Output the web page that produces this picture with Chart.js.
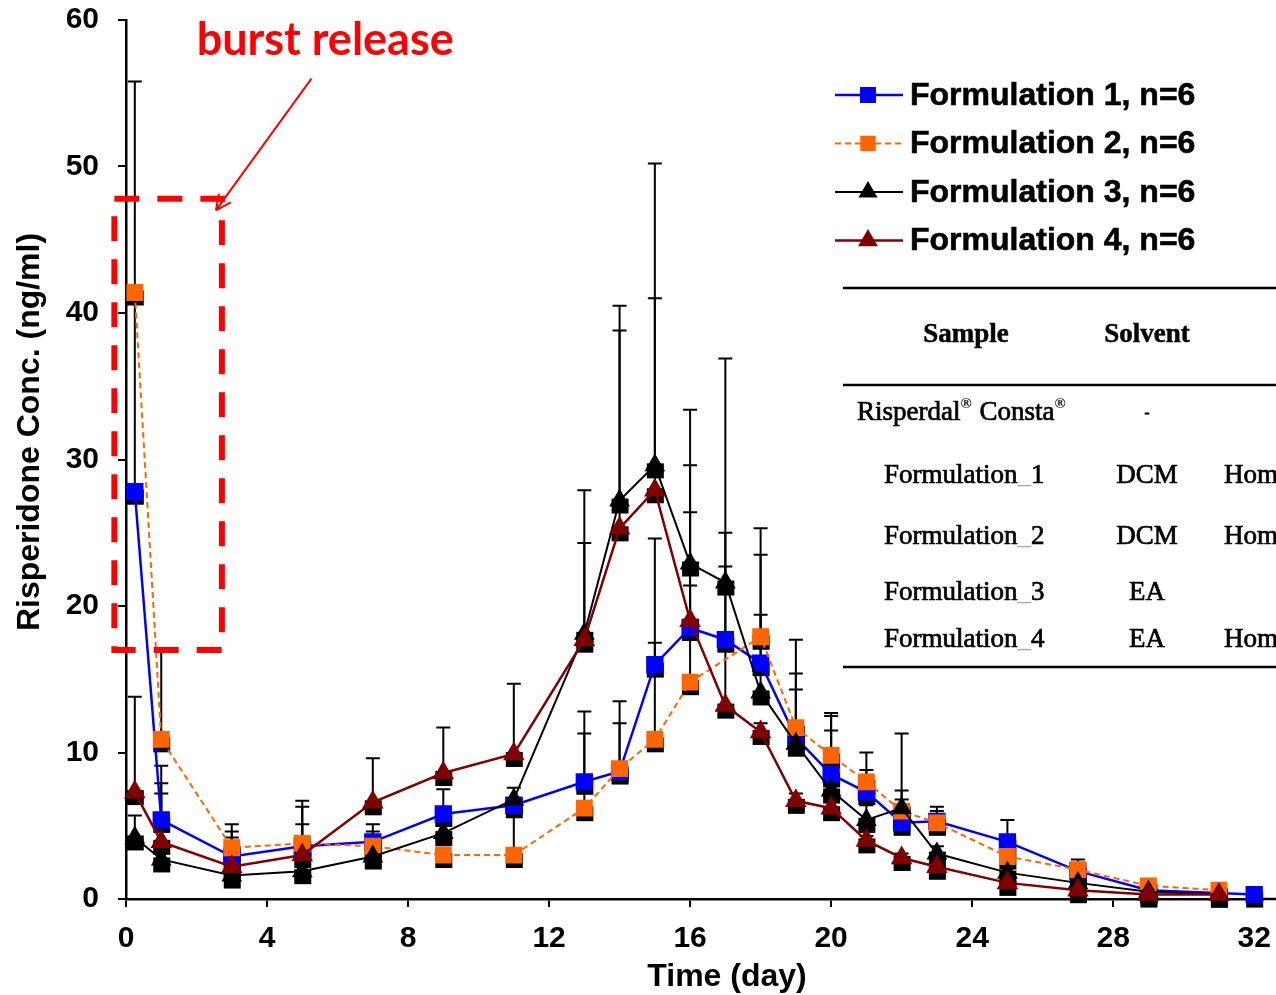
<!DOCTYPE html>
<html>
<head>
<meta charset="utf-8">
<script src="https://cdn.jsdelivr.net/npm/chart.js@4.4.0/dist/chart.umd.min.js"></script>
<style>
  html, body { margin: 0; padding: 0; background: #fff; }
  #wrap { width: 1276px; height: 995px; }
</style>
</head>
<body>
<div id="wrap"><canvas id="myChart" width="1276" height="995"></canvas></div>
<script>
// sampling days
const days = [0.25, 1, 3, 5, 7, 9, 11, 13, 14, 15, 16, 17, 18, 19, 20, 21, 22, 23, 25, 27, 29, 31, 32];
const dayTicks = [0, 4, 8, 12, 16, 20, 24, 28, 32];

// mean plasma conc. (ng/ml), null = not sampled
const form1 = [27.8, 5.4, 2.9, 3.6, 3.9, 5.8, 6.4, 8.0, 8.7, 16.0, 18.5, 17.7, 16.1, 11.0, 8.5, 7.3, 5.2, 5.3, 3.9, 1.9, 0.6, null, 0.3];
const form2 = [41.4, 10.9, 3.5, 3.8, 3.6, 3.0, 3.0, 6.2, 8.9, 10.9, 14.8, null, 17.9, 11.7, 9.8, 8.0, 6.0, 5.2, 2.9, 2.0, 0.9, 0.6, null];
const form3 = [4.2, 2.7, 1.6, 1.9, 2.9, 4.5, 6.8, 18.1, 27.2, 29.6, 22.9, 21.6, 14.1, 10.6, 7.4, 5.4, 6.2, 3.1, 1.8, 1.1, 0.5, 0.3, null];
const form4 = [7.3, 3.9, 2.2, 3.0, 6.6, 8.6, 9.9, 17.7, 25.3, 27.9, 19.0, 13.2, 11.4, 6.7, 6.2, 4.0, 2.8, 2.2, 1.1, 0.6, 0.3, 0.3, null];

// standard deviations (upper bars only)
const form1Sd = [13.3, 3.7, 1.7, 2.7, 1.2, 1.7, 0.4, 4.8, 3.3, 8.6, 7.9, 7.3, 7.4, 4.4, 4.0, 1.5, 2.2, 0.7, 1.5, 0.3, 0.2, null, 0.2];
const form2Sd = [14.4, 6.0, 1.6, 2.9, 1.0, 0.5, 3.4, 5.1, 4.6, 6.6, 6.6, null, 7.4, 6.0, 2.9, 2.0, 0.8, 1.1, 0.5, 0.7, 0.2, 0.1, null];
const form3Sd = [1.5, 4.5, 1.0, 1.2, 0.7, 1.0, 0.8, 9.8, 13.3, 20.6, 10.5, 15.3, 5.3, 3.7, 4.1, 1.0, 5.1, 0.5, 0.3, 0.2, 0.1, 0.1, null];
const form4Sd = [6.5, 4.0, 2.0, 2.1, 3.0, 3.1, 4.8, 6.6, 13.5, 13.1, 10.6, 9.5, 0.6, 0.5, 0.5, 0.3, 0.3, 0.3, 0.2, 0.1, 0.1, 0.1, null];

const seriesNames = ['Formulation 1, n=6', 'Formulation 2, n=6', 'Formulation 3, n=6', 'Formulation 4, n=6'];

// burst release box / arrow / label, in day & ng/ml units
const burstBoxDays = [-0.33, 2.72];
const burstBoxConc = [17.0, 47.8];
const arrowFrom = [5.26, 56.0];
const arrowTo = [2.55, 47.0];
const burstLabelAt = [5.65, 57.6];

// table beside the legend
const tableHead = ['Sample', 'Solvent'];
const tableRows = [
    ['Risperdal® Consta®', '-', ''],
    ['Formulation_1', 'DCM', 'Homogenizer'],
    ['Formulation_2', 'DCM', 'Homogenizer'],
    ['Formulation_3', 'EA', ''],
    ['Formulation_4', 'EA', 'Homogenizer']
];

const errs = [form1Sd, form2Sd, form3Sd, form4Sd];

function toPoints(vals) {
    return days.map((d, i) => ({ x: d, y: vals[i] })).filter(p => p.y !== null);
}

const arial = '"Liberation Sans", Arial, sans-serif';
const times = '"Liberation Serif", "Times New Roman", serif';

// text with a thin outline so it reads heavier
function heavyText(ctx, txt, x, y, w) {
    ctx.fillText(txt, x, y);
    ctx.lineWidth = w;
    ctx.strokeStyle = ctx.fillStyle;
    ctx.strokeText(txt, x, y);
}

// keep the plot box fixed, no extra room for edge labels
function noEdgePadding(scale) {
    scale.paddingTop = 0;
    scale.paddingBottom = 0;
    scale.paddingLeft = 0;
    scale.paddingRight = 0;
}

var errorBars = {
    id: 'errorBars',
    beforeDatasetsDraw(chart) {
        const ctx = chart.ctx;
        const xs = chart.scales.x, ys = chart.scales.y;
        ctx.save();
        ctx.strokeStyle = '#000';
        ctx.lineWidth = 2;
        chart.data.datasets.forEach((ds, k) => {
            const means = ds.means;
            errs[k].forEach((sd, i) => {
                if (sd === null || means[i] === null) return;
                const px = xs.getPixelForValue(days[i]);
                const y0 = ys.getPixelForValue(means[i]);
                const y1 = ys.getPixelForValue(means[i] + sd);
                ctx.beginPath();
                ctx.moveTo(px, y0);
                ctx.lineTo(px, y1);
                ctx.moveTo(px - 7, y1);
                ctx.lineTo(px + 7, y1);
                ctx.stroke();
            });
        });
        // dark drop shadow under every marker
        ctx.fillStyle = '#000';
        chart.data.datasets.forEach((ds, k) => {
            const meta = chart.getDatasetMeta(k);
            meta.data.forEach(pt => {
                ctx.fillRect(pt.x - 8, pt.y - 2, 17, 15);
            });
        });
        ctx.restore();
    }
};

var extras = {
    id: 'extras',
    afterDraw(chart) {
        const ctx = chart.ctx;
        const xs = chart.scales.x, ys = chart.scales.y;
        ctx.save();

        // x axis line runs on to the right edge
        ctx.strokeStyle = '#000';
        ctx.lineWidth = 2.5;
        ctx.beginPath();
        ctx.moveTo(chart.chartArea.right - 1, ys.getPixelForValue(0));
        ctx.lineTo(chart.width, ys.getPixelForValue(0));
        ctx.stroke();

        // dashed box round the burst
        const bx0 = xs.getPixelForValue(burstBoxDays[0]);
        const bx1 = xs.getPixelForValue(burstBoxDays[1]);
        const by0 = ys.getPixelForValue(burstBoxConc[1]);
        const by1 = ys.getPixelForValue(burstBoxConc[0]);
        ctx.strokeStyle = '#FF0000';
        ctx.lineWidth = 6;
        ctx.setLineDash([25, 18]);
        ctx.strokeRect(bx0, by0, bx1 - bx0, by1 - by0);
        ctx.setLineDash([]);

        // arrow
        const ax0 = xs.getPixelForValue(arrowFrom[0]), ay0 = ys.getPixelForValue(arrowFrom[1]);
        const ax1 = xs.getPixelForValue(arrowTo[0]), ay1 = ys.getPixelForValue(arrowTo[1]);
        ctx.lineWidth = 2;
        ctx.beginPath();
        ctx.moveTo(ax0, ay0);
        ctx.lineTo(ax1, ay1);
        const ang = Math.atan2(ay1 - ay0, ax1 - ax0);
        for (const s of [-1, 1]) {
            ctx.moveTo(ax1, ay1);
            ctx.lineTo(ax1 - 17 * Math.cos(ang + s * 0.45), ay1 - 17 * Math.sin(ang + s * 0.45));
        }
        ctx.stroke();

        ctx.fillStyle = '#FF0000';
        ctx.font = 'bold 45px Lato, sans-serif';
        ctx.textAlign = 'center';
        ctx.textBaseline = 'alphabetic';
        ctx.fillText('burst release', xs.getPixelForValue(burstLabelAt[0]), ys.getPixelForValue(burstLabelAt[1]));

        // axis titles
        ctx.fillStyle = '#000';
        ctx.font = 'bold 32px ' + arial;
        ctx.textBaseline = 'middle';
        ctx.fillText('Time (day)', 727, 977);
        ctx.save();
        ctx.translate(30, 432);
        ctx.rotate(-Math.PI / 2);
        ctx.fillText('Risperidone Conc. (ng/ml)', 0, 0);
        ctx.restore();

        // legend
        chart.data.datasets.forEach((ds, k) => {
            const ly = 95 + k * 48.5;
            ctx.strokeStyle = ds.borderColor;
            ctx.lineWidth = ds.borderWidth;
            ctx.setLineDash(ds.borderDash || []);
            ctx.beginPath();
            ctx.moveTo(835, ly);
            ctx.lineTo(903, ly);
            ctx.stroke();
            ctx.setLineDash([]);
            ctx.fillStyle = ds.pointBackgroundColor;
            ctx.strokeStyle = ds.pointBackgroundColor;
            Chart.helpers.drawPoint(ctx, { pointStyle: ds.pointStyle, rotation: 0, radius: ds.pointStyle === 'rect' ? 9.5 : 9, borderWidth: 1 }, 868, ly);
            ctx.fillStyle = '#000';
            ctx.font = 'bold 32px ' + arial;
            ctx.textAlign = 'left';
            ctx.textBaseline = 'middle';
            heavyText(ctx, ds.label, 910, ly + 1, 0.6);
        });

        // table
        ctx.strokeStyle = '#000';
        ctx.lineWidth = 2.5;
        ctx.beginPath();
        [288, 385, 667].forEach(ly => { ctx.moveTo(843, ly); ctx.lineTo(1276, ly); });
        ctx.stroke();
        ctx.fillStyle = '#000';
        ctx.textBaseline = 'middle';
        ctx.font = 'bold 27px ' + times;
        ctx.textAlign = 'center';
        heavyText(ctx, tableHead[0], 966, 335, 0.5);
        heavyText(ctx, tableHead[1], 1147, 335, 0.5);
        const rowY = [413, 476, 537, 593, 640];
        tableRows.forEach((row, r) => {
            const y = rowY[r];
            ctx.font = '27px ' + times;
            ctx.textAlign = 'left';
            ctx.fillStyle = '#000';
            if (r === 0) {
                let x = 857;
                const parts = row[0].split('®');
                parts.forEach((p, j) => {
                    if (!p && j === parts.length - 1) return;
                    ctx.font = '27px ' + times;
                    heavyText(ctx, p, x, y, 0.7);
                    x += ctx.measureText(p).width;
                    if (j < parts.length - 1) {
                        ctx.font = 'bold 15px ' + times;
                        ctx.fillText('®', x, y - 9);
                        x += ctx.measureText('®').width + 1;
                    }
                });
            } else {
                const [name, num] = row[0].split('_');
                heavyText(ctx, name, 884, y, 0.7);
                let x = 884 + ctx.measureText(name).width;
                ctx.fillStyle = '#aaa';
                ctx.fillText('_', x, y);
                x += ctx.measureText('_').width;
                ctx.fillStyle = '#000';
                heavyText(ctx, num, x, y, 0.7);
            }
            ctx.textAlign = 'center';
            heavyText(ctx, row[1], 1147, y, 0.7);
            ctx.textAlign = 'left';
            if (row[2]) heavyText(ctx, row[2], 1224, y, 0.7);
        });
        ctx.restore();
    }
};

const ctx = document.getElementById('myChart').getContext('2d');
const myChart = new Chart(ctx, {
    type: 'line',
    data: {
        datasets: [
            { label: seriesNames[0], data: toPoints(form1), means: form1, borderColor: '#0000FF', pointBackgroundColor: '#0000FF', pointBorderColor: '#0000FF', pointStyle: 'rect', pointRadius: 10.5, borderWidth: 2.5, order: 4 },
            { label: seriesNames[1], data: toPoints(form2), means: form2, borderColor: '#FF6600', pointBackgroundColor: '#FF6600', pointBorderColor: '#FF6600', pointStyle: 'rect', pointRadius: 10.5, borderWidth: 2, borderDash: [6, 4], order: 3 },
            { label: seriesNames[2], data: toPoints(form3), means: form3, borderColor: '#000000', pointBackgroundColor: '#000000', pointBorderColor: '#000000', pointStyle: 'triangle', pointRadius: 10, borderWidth: 2, order: 2 },
            { label: seriesNames[3], data: toPoints(form4), means: form4, borderColor: '#800000', pointBackgroundColor: '#800000', pointBorderColor: '#800000', pointStyle: 'triangle', pointRadius: 10, borderWidth: 2.5, order: 1 }
        ]
    },
    options: {
        responsive: false,
        animation: false,
        devicePixelRatio: 1,
        clip: false,
        layout: { padding: { top: 20, right: 0, bottom: 0, left: 0 } },
        elements: { line: { tension: 0, fill: false }, point: { borderWidth: 1, hoverRadius: 10 } },
        plugins: { legend: { display: false }, tooltip: { enabled: false } },
        scales: {
            x: {
                type: 'linear',
                min: 0,
                max: 32.25,
                ticks: { stepSize: 4, color: '#000', padding: 14, maxRotation: 0, autoSkip: false, font: { family: arial, size: 30, weight: 'bold' } },
                afterBuildTicks(scale) { scale.ticks = dayTicks.map(v => ({ value: v })); },
                grid: { drawOnChartArea: false, drawTicks: true, tickLength: 8, color: '#000', lineWidth: 2 },
                border: { color: '#000', width: 2.5 },
                afterFit(scale) { scale.height = 96; noEdgePadding(scale); }
            },
            y: {
                min: 0,
                max: 60,
                ticks: { stepSize: 10, color: '#000', padding: 19, font: { family: arial, size: 30, weight: 'bold' } },
                grid: { drawOnChartArea: false, drawTicks: true, tickLength: 8, color: '#000', lineWidth: 2 },
                border: { color: '#000', width: 2.5 },
                afterFit(scale) { scale.width = 126; noEdgePadding(scale); }
            }
        }
    },
    plugins: [errorBars, extras]
});
</script>
</body>
</html>
